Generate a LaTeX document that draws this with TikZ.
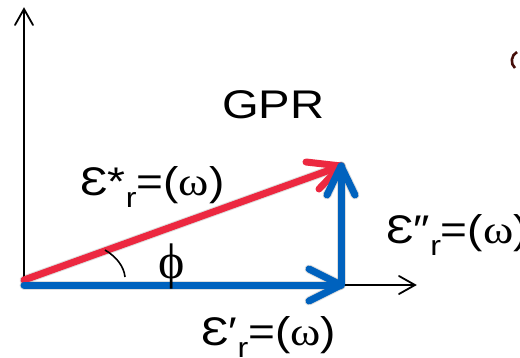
\documentclass[tikz,border=0pt]{standalone}
\usepackage{fontspec}
\usepackage{graphicx}
\usetikzlibrary{calc}
\setmainfont{Liberation Sans}
\newfontfamily\serifgr{Liberation Serif}
\definecolor{myblue}{RGB}{0,98,190}
\definecolor{myred}{RGB}{236,40,64}
\definecolor{glyphbrown}{RGB}{70,15,10}
\newcommand{\epsl}[1]{\scalebox{1.15}[1]{Ɛ#1\raisebox{-12pt}{\fontsize{28}{30}\selectfont r}=({\serifgr ω})}}
\tikzset{
  axis/.style={line width=1.8pt, black},
  axtip/.style={line width=1.8pt, black, line cap=round, line join=miter},
  vec/.style={line width=7pt, line cap=round, line join=round},
  shad/.style={line width=9pt, line cap=round, line join=round, black, opacity=0.13},
  lab/.style={inner sep=0pt, anchor=base west, font=\fontsize{40}{48}\selectfont},
}
\begin{document}
\begin{tikzpicture}[x=1pt,y=-1pt]
\useasboundingbox (0,0) rectangle (520,357);
% key points
\coordinate (O) at (24,280);
\coordinate (Ob) at (24,285);
\coordinate (A) at (341,285);
\coordinate (B) at (341,166);
\coordinate (X) at (415,285);
\coordinate (Y) at (24,9);
% axes
\draw[axis] (Ob) -- (Y);
\draw[axtip] ($(Y)+(-9,16)$) -- (Y) -- ($(Y)+(9,16)$);
\draw[axis] (A) -- (X);
\draw[axtip] ($(X)+(-16,-9)$) -- (X) -- ($(X)+(-16,9)$);
% shadows
\begin{scope}[shift={(2,4)}]
  \draw[shad] (Ob) -- (A) -- (B);
  \draw[shad] (O) -- (B);
  \draw[shad] ($(A)+(-32,-16)$) -- (A) -- ($(A)+(-32,16)$);
  \draw[shad] ($(B)+(-14,29)$) -- (B) -- ($(B)+(14,29)$);
\end{scope}
% vectors
\draw[vec, myred] (O) -- (B);
\draw[vec, myred] ($(B)+(-35,-4)$) -- (B) -- ($(B)+(-22,23)$);
\draw[vec, myblue] (Ob) -- (A);
\draw[vec, myblue] ($(A)+(-32,-16)$) -- (A) -- ($(A)+(-32,16)$);
\draw[vec, myblue] (A) -- (B);
\draw[vec, myblue] ($(B)+(-14,29)$) -- (B) -- ($(B)+(14,29)$);
% angle
\draw[line width=1.6pt] (105,250) .. controls (117,257) and (124,267) .. (125,277);
\node[inner sep=0pt, anchor=base, font=\fontsize{50}{56}\selectfont\serifgr] (phi) at (172,278) {ϕ};
% labels
\node[lab] (gpr) at (222,118) {\scalebox{1.18}[1]{GPR}};
\node[lab] (estar) at (80,195) {\epsl{*}};
\node[lab] (edbl) at (386,243) {\epsl{″}};
\node[lab] (eprime) at (201,345) {\epsl{′}};
% partial glyph at right edge
\draw[glyphbrown, line width=2.6pt] (517,52) .. controls (511,55) and (510,64) .. (515,68);
\end{tikzpicture}
\end{document}
